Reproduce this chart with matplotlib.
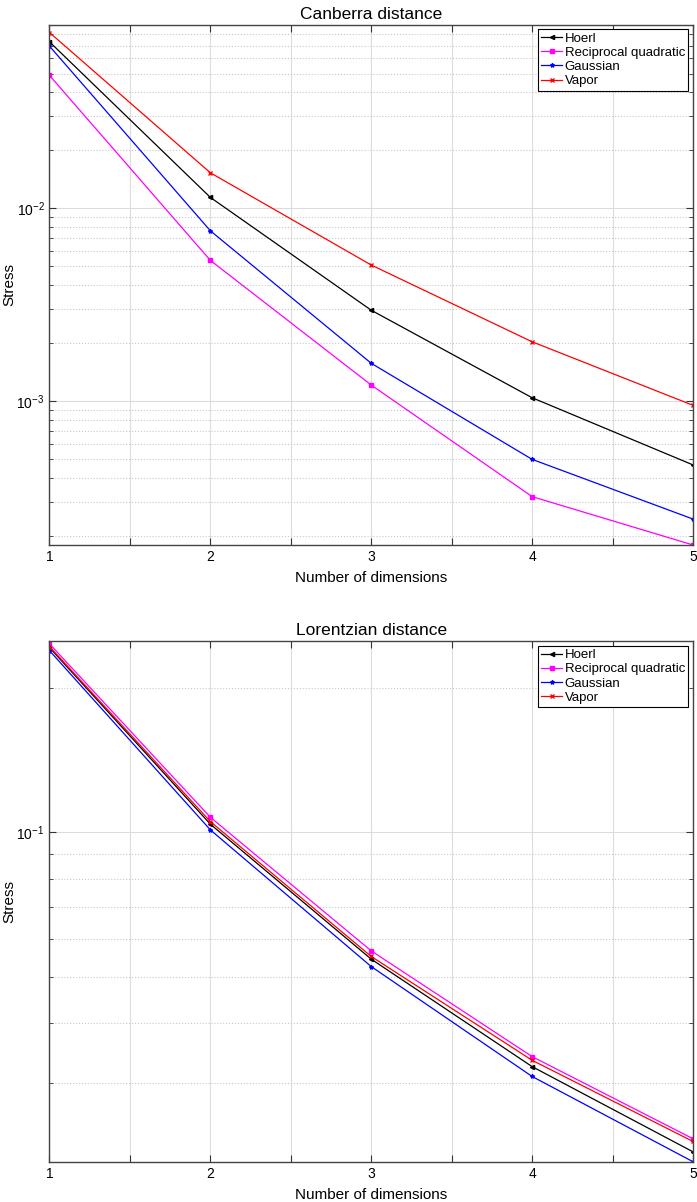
import numpy as np
import matplotlib
matplotlib.use('Agg')
import matplotlib.pyplot as plt
from matplotlib.ticker import MultipleLocator, FuncFormatter, LogLocator, NullFormatter

plt.rcParams['font.family'] = ['Liberation Sans', 'DejaVu Sans']

dims = [1, 2, 3, 4, 5]
names = ['Hoerl', 'Reciprocal quadratic', 'Gaussian', 'Vapor']
colors = ['black', 'magenta', 'blue', 'red']
markers = ['<', 's', '*', 'x']

# Canberra distance
canberra_hoerl = [0.0732, 0.0114, 0.00296, 0.00104, 0.000466]
canberra_recip = [0.0490, 0.00537, 0.00121, 0.000319, 0.000179]
canberra_gauss = [0.0695, 0.00765, 0.00157, 0.000498, 0.000244]
canberra_vapor = [0.0818, 0.0153, 0.00508, 0.00203, 0.00095]

# Lorentzian distance
lorentz_hoerl = [0.2423, 0.1039, 0.0544, 0.0325, 0.0216]
lorentz_recip = [0.2467, 0.1074, 0.0566, 0.0341, 0.0230]
lorentz_gauss = [0.2388, 0.1011, 0.0525, 0.0310, 0.0206]
lorentz_vapor = [0.2435, 0.1052, 0.0551, 0.0335, 0.0227]


def draw(ax, series, title, ylim):
    for vals, name, c, m in zip(series, names, colors, markers):
        ax.plot(dims, vals, color=c, marker=m, markersize=3, linewidth=0.9,
                label=name)
    ax.set_yscale('log')
    ax.set_xlim(1, 5)
    ax.set_ylim(*ylim)
    ax.xaxis.set_major_locator(MultipleLocator(0.5))
    ax.xaxis.set_major_formatter(FuncFormatter(
        lambda v, p: '%d' % v if abs(v - round(v)) < 1e-6 else ''))
    ax.yaxis.set_major_locator(LogLocator(base=10))
    ax.yaxis.set_minor_locator(LogLocator(base=10, subs=np.arange(2, 10)))
    ax.yaxis.set_minor_formatter(NullFormatter())
    ax.grid(True, which='major', color='#dcdcdc', linestyle='-', linewidth=0.8)
    ax.grid(True, which='minor', axis='y', color='#c8c8c8', linestyle=':',
            linewidth=0.8)
    ax.tick_params(which='both', direction='in', top=True, right=True,
                   labelsize=10, color='#333333')
    ax.tick_params(which='major', length=5)
    ax.tick_params(which='minor', length=3)
    for s in ax.spines.values():
        s.set_color('#444444')
        s.set_linewidth(1.0)
    ax.set_xlabel('Number of dimensions', fontsize=11, labelpad=5)
    ax.set_ylabel('Stress', fontsize=11, va='center')
    ax.yaxis.set_label_coords(-0.062, 0.5)
    ax.set_title(title, fontsize=12.5, pad=4)
    leg = ax.legend(loc='upper right', fontsize=9.5, fancybox=False,
                    framealpha=1, edgecolor='black', borderpad=0.25,
                    labelspacing=0.15, handlelength=1.6, handletextpad=0.2,
                    borderaxespad=0.35)
    leg.get_frame().set_linewidth(0.8)


fig = plt.figure(figsize=(6.97, 12.02), dpi=100)
ax1 = fig.add_axes([0.071, 0.5466, 0.9233, 0.433])
ax2 = fig.add_axes([0.071, 0.0335, 0.9233, 0.4332])

draw(ax1, [canberra_hoerl, canberra_recip, canberra_gauss, canberra_vapor],
     'Canberra distance', (1.79e-4, 0.09))
draw(ax2, [lorentz_hoerl, lorentz_recip, lorentz_gauss, lorentz_vapor],
     'Lorentzian distance', (0.0206, 0.250))

fig.savefig('out.png', dpi=100)
